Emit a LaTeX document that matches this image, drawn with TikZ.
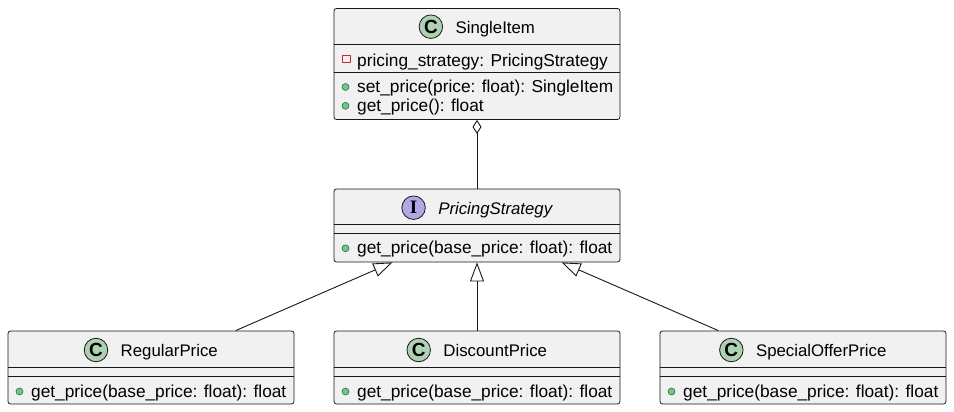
\documentclass[tikz,border=0pt]{standalone}
\usepackage{fontspec}
\setmainfont{Liberation Sans}
\newfontfamily\iconserif{Liberation Serif}
\usetikzlibrary{arrows.meta,positioning}

\definecolor{boxfill}{HTML}{F1F1F1}
\definecolor{umlline}{HTML}{181818}
\definecolor{classgreen}{HTML}{ADD1B2}
\definecolor{ifacepurple}{HTML}{B4A7E5}
\definecolor{privred}{HTML}{C82930}
\definecolor{pubfill}{HTML}{84BE84}
\definecolor{pubdraw}{HTML}{038048}

\begin{document}
\begin{tikzpicture}[x=1pt, y=-1pt, line join=round,
	box/.style={draw=umlline, fill=boxfill, rounded corners=2.5pt, line width=0.8pt, inner sep=0pt, minimum width=286pt},
	head/.style={anchor=base, inner sep=0pt, font=\fontsize{16.8}{20}\selectfont},
	icon/.style={circle, draw=umlline, line width=0.8pt, minimum size=23.5pt, inner sep=0pt, font=\fontsize{19}{20}\selectfont\bfseries},
	member/.style={anchor=base west, inner sep=0pt, font=\fontsize{17.3}{20}\selectfont},
	pub/.style={circle, draw=pubdraw, fill=pubfill, minimum size=7pt, inner sep=0pt, line width=0.6pt},
	priv/.style={rectangle, draw=privred, minimum size=7.5pt, inner sep=0pt, line width=0.8pt},
	divider/.style={draw=umlline, line width=0.8pt},
	aggr/.style={draw=umlline, line width=0.9pt, {Diamond[open,length=14pt,width=9pt]}-},
	inherit/.style={draw=umlline, line width=0.9pt, -{Triangle[open,length=19pt,width=14pt]}}]
\useasboundingbox (0,0) rectangle (954,412);

% SingleItem
\node[box, minimum height=111pt] (single) at (477,64) {};
\draw[divider] (single.west |- 0,44.5) -- (single.east |- 0,44.5);
\draw[divider] (single.west |- 0,72) -- (single.east |- 0,72);
\node[head] (single-head) at (477,33.2) {\hspace{36.5pt}SingleItem};
\node[icon, fill=classgreen] (single-icon) at ([shift={(12,-6.5)}]single-head.base west) {C};
\node[priv] (single-attr-vis) at (346.5,59) {};
\node[member] (single-attr) at (357,66.5) {pricing\_strategy: PricingStrategy};
\node[pub] (single-set-vis) at (345.5,87) {};
\node[member] (single-set) at (357,92.5) {set\_price(price: float): SingleItem};
\node[pub] (single-get-vis) at (345.5,105.8) {};
\node[member] (single-get) at (357,111.3) {get\_price(): float};

% PricingStrategy
\node[box, minimum height=73pt] (strategy) at (477,225.5) {};
\draw[divider] (strategy.west |- 0,224.5) -- (strategy.east |- 0,224.5);
\draw[divider] (strategy.west |- 0,233.5) -- (strategy.east |- 0,233.5);
\node[head] (strategy-head) at (477,214.2) {\hspace{36.5pt}\itshape PricingStrategy};
\node[icon, fill=ifacepurple] (strategy-icon) at ([shift={(12,-6.5)}]strategy-head.base west) {\iconserif I};
\node[pub] (strategy-get-vis) at (345.5,248.3) {};
\node[member] (strategy-get) at (357,253.6) {get\_price(base\_price: float): float};

% concrete prices
\foreach \name/\cx/\title in {regular/151/RegularPrice, discount/477/DiscountPrice, special/803/SpecialOfferPrice} {
	\node[box, minimum height=73pt] (\name) at (\cx,367.5) {};
	\draw[divider] (\name.west |- 0,367.5) -- (\name.east |- 0,367.5);
	\draw[divider] (\name.west |- 0,376) -- (\name.east |- 0,376);
	\node[head] (\name-head) at (\cx,356.5) {\hspace{36.5pt}\title};
	\node[icon, fill=classgreen] (\name-icon) at ([shift={(12,-6.5)}]\name-head.base west) {C};
	\node[pub] (\name-get-vis) at (\cx-131.5,391.5) {};
	\node[member] (\name-get) at (\cx-120,397) {get\_price(base\_price: float): float};
}

\draw[aggr] (single) -- (strategy);
\foreach \name in {regular, discount, special}
	\draw[inherit] (\name) -- (strategy);
\end{tikzpicture}
\end{document}
